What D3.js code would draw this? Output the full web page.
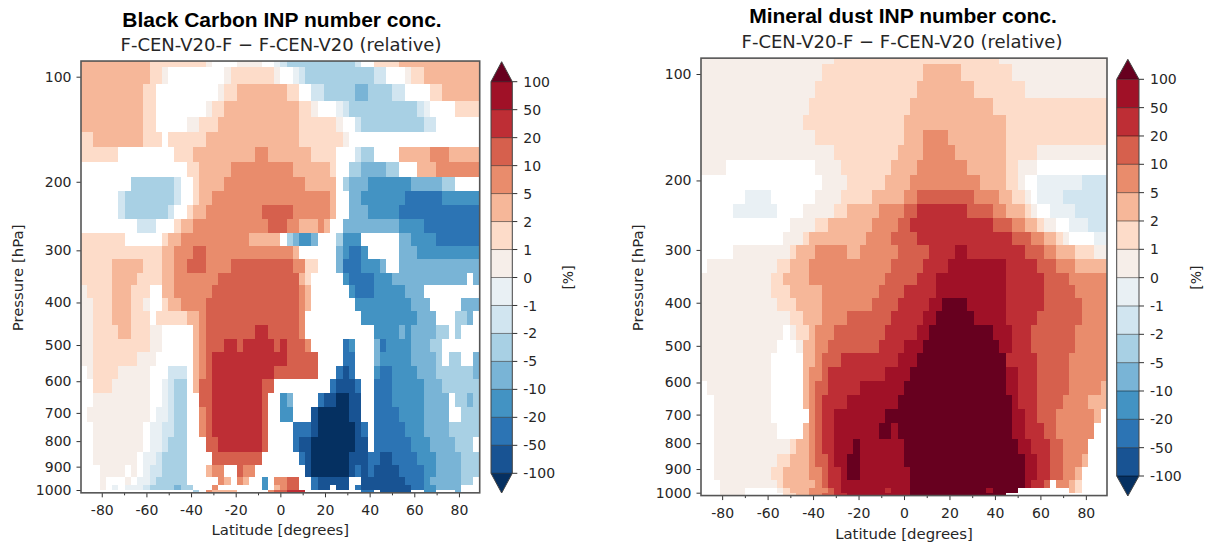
<!DOCTYPE html>
<html><head><meta charset="utf-8">
<script src="https://cdn.jsdelivr.net/npm/d3@7"></script>
<style>html,body{margin:0;padding:0;background:#fff}svg{display:block}</style>
</head><body><svg id="c" width="1209" height="542"></svg>
<script>
// ---- data -----
const pressureEdges = [89.4,93.5,105.3,118.2,131.7,145.5,160.4,176.6,193.9,211.3,230.3,250.4,271.1,292.6,315.6,340.2,364,390,418.8,450.5,484.8,519.3,556.8,594.5,637.2,681.6,729.4,783.5,840.2,893.1,945.1,978.5,1000,1012.7];
const pressureTicks = [100,200,300,400,500,600,700,800,900,1000];
const latMajorTicks = [-80,-60,-40,-20,0,20,40,60,80];
const latMinorTicks = [-70,-50,-30,-10,10,30,50,70];
const classBounds = [-100,-50,-20,-10,-5,-2,-1,0,1,2,5,10,20,50,100];
const classColors = ["#053061","#185393","#2c74b4","#4393c3","#79b4d6","#a8d0e4","#d1e5f0","#e9f0f4","#f6eee9","#fddcc9","#f6b799","#e98c6c","#d6604d","#be2e35","#a01127","#67001f"];
// one letter per relative-change class ("." = masked)
const classValues = {a:-150,b:-75,c:-35,d:-15,e:-7,f:-3,g:-1.5,h:-0.5,i:0.5,j:1.5,k:3,l:7,m:15,n:35,o:75,p:150};
// each row: class letter + last latitude column (exclusive) of that run, top to bottom
const blackCarbonRows = [
"k11 j20 i21 .25 i29 .31 h32 g33 f44 g45 .47 j51 k64",
"k11 j13 i14 .23 i24 j31 i32 .34 h35 g36 f47 g49 .52 i53 j55 k64",
"k10 j12 .22 i23 j25 k33 j35 .37 g39 f44 e46 f50 g52 .56 j58 k64",
"k10 j12 .20 i21 j23 k35 j37 i38 .41 h42 g43 f54 g55 h56 .60 j64",
"k10 j12 .17 i19 j22 k35 j41 i42 .44 g45 f55 g57 .64",
"j2 k10 j13 .14 j20 k35 j42 i43 .64",
"j6 .15 j18 k28 l30 k37 j41 .44 g45 f47 .51 k56 l59 k64",
".17 j19 k24 l34 k40 j41 .43 f45 e49 f51 .54 k57 l64",
".8 f15 g16 .18 j19 k23 l36 k41 .42 f43 e46 d53 e58 f60 .64",
".6 g7 f15 g16 .18 j19 k21 l40 k41 .43 e45 d52 c58 d64",
".6 g7 f14 g15 .17 j18 k20 l29 m34 l40 k41 .43 e46 d51 c64",
".9 g12 .15 j16 k18 l30 m33 l35 k38 l39 k40 .42 e51 d55 c64",
"j7 .13 j14 k16 l27 k32 .33 f34 e35 d37 e38 .41 f42 d45 .51 e53 d57 c64",
"j13 k15 l18 m20 l34 k35 .41 e42 d43 c45 d46 .51 e54 d64",
"j5 k10 j13 k15 l17 m20 l24 m34 l36 j38 .41 e42 c45 d48 e49 .51 e64",
"j5 k9 j13 k15 l22 m35 k36 j37 .42 d43 c47 d50 e62 .63 e64",
"i1 j5 k8 j11 .13 k15 l21 m35 l36 k37 .43 d44 c47 d52 e55 .64",
"i2 j5 k8 j10 i11 .13 j14 k16 l20 m35 l36 k37 .44 d53 e56 .61 e64",
"i2 j5 k8 j11 .12 j17 k19 l20 m35 l36 .45 d54 e57 .60 f62 e63 .64",
"i2 j6 k8 j11 i13 .18 k19 l20 m28 n30 m35 l36 .47 d51 e52 d53 e57 f59 .60 f61 .64",
"i2 j11 i13 .18 k19 l20 m23 n25 m26 n31 m32 n33 m36 l37 .42 c43 d44 .47 e48 c49 d53 e56 f58 .64",
"i2 j9 i12 .18 k19 l20 m21 n33 m38 .42 c44 .47 e48 d53 e57 f58 .59 f61 .63 e64",
".1 i2 j6 i11 .14 g17 .18 k19 l20 m21 n31 m38 .41 c42 b43 c44 .47 d48 c50 d54 e57 f63 e64",
".2 j5 i11 .13 h14 g15 f17 .18 k19 m21 n29 m31 .40 c41 b44 c45 .47 c50 d55 e58 f64",
".2 i11 .13 h14 g15 f17 .19 m21 n29 m30 .32 d33 e34 .38 c39 b41 a43 b45 .47 c50 d55 e59 .60 f62 e63 f64",
".1 i11 .12 h14 g15 f17 .19 l20 m21 n29 m30 .32 d34 .37 b38 a43 b45 .47 c51 d55 e59 .61 f64",
".2 i10 .11 h13 g15 f17 .19 l20 m21 n29 m30 .34 c37 b38 a44 b45 c46 .47 c52 d55 e59 f64",
".2 i10 .11 h13 g14 f17 .20 m22 n29 m30 .34 c35 b37 a44 b46 .47 c53 d56 e60 f63 .64",
".2 i9 .10 h12 g13 f17 .21 m29 .35 c36 b37 a43 b46 c48 b50 c54 d57 e61 f64",
".3 i7 .8 i9 .10 h11 g13 f17 .20 k21 l23 .25 m26 l28 .36 b37 a43 b44 c45 b46 c47 b51 c55 d57 e61 f64",
".3 i4 .7 i8 .9 h11 g12 f17 .22 l23 k24 .25 l26 k27 .29 d30 .31 l33 m35 .37 c38 b43 .45 b52 c55 d56 e61 f63 .64",
".3 i4 .5 h6 .7 h10 g11 f15 e16 f18 .21 l22 .29 d30 .31 k32 l33 m35 .37 c38 b40 .41 b43 .44 c45 b53 c55 d57 e61 .64",
".18 f19 .20 l21 k25 .30 l31 m33 n36 .45 c47 .48 b53 .55 d57 .60 e61 .64"
];
const mineralDustRows = [
"i21 j47 i64",
"i19 j35 k41 j49 i64",
"i18 j34 k43 j51 i64",
"i17 j33 k46 j64",
"i16 j32 k48 j64",
"i18 j32 k35 l39 k48 j64",
"i21 j31 k35 l40 k48 j53 i64",
"i4 .18 i22 j30 k34 l42 k48 j50 i53 .64",
".19 i23 j29 k33 l44 k48 j50 i51 .53 h60 g64",
".7 h11 .18 i22 j27 k32 l34 m43 l47 k49 j51 i52 .53 h57 g64",
".5 h12 .16 i21 j23 k28 l32 m34 n42 m46 l48 k51 j52 i53 .55 h59 g64",
".14 i18 j20 k27 l31 m33 n46 m49 l51 k53 j54 i56 .58 h61 g64",
".13 i16 j17 k26 l30 m34 n49 m52 l54 k56 j57 i58 .62 h64",
".5 i14 j15 k18 l23 k25 l31 m36 n40 o42 n51 m54 l56 k59 j62 i64",
".1 i12 j14 k17 l30 m35 n39 o48 n53 m56 l59 k64",
"i11 j13 k17 l29 m34 n37 o48 n54 m58 l64",
"i11 j14 k19 l28 m32 n37 o48 n54 m59 l64",
"i12 j15 k19 l27 m31 n36 o38 p42 o48 n54 m60 l64",
"i14 j16 k19 l23 m30 n35 o37 p43 o48 n53 m60 l64",
"i13 .14 i15 j17 k18 l21 m29 n34 o36 p46 o49 n52 m59 l64",
"i12 .15 i16 k18 l20 m28 n32 o35 p47 o49 n52 m59 l64",
"i11 .16 k18 l19 m22 n31 o34 p48 n53 m58 l64",
"i11 .16 k17 l19 m20 n29 o33 p48 o50 n53 m58 l64",
".1 i11 .16 k17 l18 m20 n25 o32 p48 o50 n53 m58 l63 k64",
".2 i11 .16 k17 l18 m19 n23 o31 p49 o50 n53 m57 l61 k64",
".2 i11 .17 l18 m19 n21 o29 p49 o51 n53 m56 l62 k63 .64",
".2 i12 .16 k17 l18 m19 n21 o28 p30 o31 p49 o51 n54 m56 l62 .64",
".2 i14 j15 k17 l18 m19 n21 o24 p25 o32 p50 o52 n55 m57 l61 .64",
".2 i12 j14 k17 l18 m20 n21 o23 p25 o32 p51 o53 n55 m57 l60 k61 .64",
".2 i11 j13 k17 l19 m20 n22 o23 p25 o33 p51 o53 n55 m57 l59 k60 .64",
".3 i12 j13 k18 l19 m20 n22 o33 p51 o52 n54 m55 .56 l58 k59 j60 .64",
".3 i7 .12 i13 j14 k17 l20 m21 n22 o29 n30 o33 p45 o46 p50 .58 k59 j60 .64",
".3 i7 .13 j15 k17 l19 m21 n23 o33 p48 .64"
];
const panels = [
  {title:"Black Carbon INP number conc.", subtitle:"F-CEN-V20-F \u2212 F-CEN-V20 (relative)", rows:blackCarbonRows,
   x0:81,x1:479.7,y100:76.7,y1000:490,titleX:282,titleY:27,subY:51,tickPad:8,
   bar:{x:491,w:21.3,top:81.7,bottom:473.3,apexTop:61.7,apexBottom:493,labelX:568},yLabelX:23,xLabelY:535},
  {title:"Mineral dust INP number conc.", subtitle:"F-CEN-V20-F \u2212 F-CEN-V20 (relative)", rows:mineralDustRows,
   x0:701,x1:1107,y100:74,y1000:492.7,titleX:903,titleY:23,subY:48,tickPad:8,
   bar:{x:1116.7,w:22.3,top:79.3,bottom:476,apexTop:59.3,apexBottom:496,labelX:1196},yLabelX:643,xLabelY:539}
];
// ---- drawing ----
const svg = d3.select("#c");
const color = d3.scaleThreshold().domain(classBounds).range(classColors);
const TXT="#262626", SANS="'DejaVu Sans',sans-serif";
function decode(row){
  const out=[]; let c=0;
  row.split(" ").forEach(t=>{const e=+t.slice(1); const v=classValues[t[0]]; for(;c<e;c++) out.push(v===undefined?NaN:v);});
  return out;
}
panels.forEach(p=>{
  const g=svg.append("g");
  const x=d3.scaleLinear().domain([-89.3,89.3]).range([p.x0,p.x1]);
  const y=d3.scalePow().exponent(0.2).domain([100,1000]).range([p.y100,p.y1000]);
  const latEdge=d3.scaleLinear().domain([0,64]).range([-89.3,89.3]);
  const cells=g.append("g").attr("shape-rendering","crispEdges");
  p.rows.forEach((row,r)=>{
    cells.append("g").selectAll("rect").data(decode(row).map((v,c)=>({v,c})).filter(d=>!isNaN(d.v))).join("rect")
     .attr("x",d=>x(latEdge(d.c))).attr("width",d=>x(latEdge(d.c+1))-x(latEdge(d.c)))
     .attr("y",y(pressureEdges[r])).attr("height",y(pressureEdges[r+1])-y(pressureEdges[r]))
     .attr("fill",d=>color(d.v));
  });
  const top=y(pressureEdges[0]), bot=y(pressureEdges[pressureEdges.length-1]);
  g.append("g").attr("transform",`translate(0,${bot})`)
    .call(d3.axisBottom(x).tickValues(latMajorTicks).tickSize(4.5).tickPadding(p.tickPad).tickFormat(d=>d<0?"-"+Math.abs(d):d));
  g.append("g").attr("transform",`translate(0,${bot})`)
    .call(d3.axisBottom(x).tickValues(latMinorTicks).tickSize(2.5).tickFormat(""));
  g.append("g").attr("transform",`translate(${p.x0},0)`)
    .call(d3.axisLeft(y).tickValues(pressureTicks).tickSize(4.5).tickPadding(5).tickFormat(d3.format("d")));
  g.selectAll(".domain").remove();
  g.selectAll(".tick line").attr("stroke","#333").attr("stroke-width",1);
  g.selectAll(".tick text").attr("font-family",SANS).attr("font-size",14).attr("fill",TXT);
  g.append("rect").attr("x",p.x0).attr("y",top).attr("width",p.x1-p.x0).attr("height",bot-top)
    .attr("fill","none").attr("stroke","#555").attr("stroke-width",1.6);
  // titles
  g.append("text").attr("x",p.titleX).attr("y",p.titleY).attr("text-anchor","middle")
    .attr("font-family","'Liberation Sans',Arial,sans-serif").attr("font-weight","bold").attr("font-size",21).attr("fill","#000").text(p.title);
  g.append("text").attr("x",p.titleX-1).attr("y",p.subY).attr("text-anchor","middle")
    .attr("font-family",SANS).attr("font-size",18).attr("fill",TXT).text(p.subtitle);
  g.append("text").attr("transform",`translate(${p.yLabelX},${(top+bot)/2+1}) rotate(-90)`).attr("text-anchor","middle")
    .attr("font-family",SANS).attr("font-size",14.9).attr("fill",TXT).text("Pressure [hPa]");
  g.append("text").attr("x",(p.x0+p.x1)/2).attr("y",p.xLabelY).attr("text-anchor","middle")
    .attr("font-family",SANS).attr("font-size",14.9).attr("fill",TXT).text("Latitude [degrees]");
  // colour bar
  const b=p.bar, barY=d3.scaleLinear().domain([0,classBounds.length-1]).range([b.bottom,b.top]);
  const bins=d3.range(classBounds.length-1);
  g.append("g").selectAll("rect").data(bins).join("rect")
    .attr("x",b.x).attr("width",b.w).attr("y",i=>barY(i+1)).attr("height",i=>barY(i)-barY(i+1))
    .attr("fill",i=>classColors[i+1]);
  g.append("path").attr("d",`M${b.x},${b.top}L${b.x+b.w/2},${b.apexTop}L${b.x+b.w},${b.top}Z`).attr("fill",classColors[15]);
  g.append("path").attr("d",`M${b.x},${b.bottom}L${b.x+b.w/2},${b.apexBottom}L${b.x+b.w},${b.bottom}Z`).attr("fill",classColors[0]);
  g.append("g").selectAll("line").data(classBounds).join("line")
    .attr("x1",b.x).attr("x2",b.x+b.w).attr("y1",(d,i)=>barY(i)).attr("y2",(d,i)=>barY(i)).attr("stroke","#000").attr("stroke-opacity",0.6).attr("stroke-width",0.8);
  g.append("path").attr("fill","none").attr("stroke","#444").attr("stroke-width",1)
    .attr("d",`M${b.x},${b.top}L${b.x+b.w/2},${b.apexTop}L${b.x+b.w},${b.top}L${b.x+b.w},${b.bottom}L${b.x+b.w/2},${b.apexBottom}L${b.x},${b.bottom}Z`);
  g.append("g").selectAll("line").data(classBounds).join("line")
    .attr("x1",b.x+b.w).attr("x2",b.x+b.w+5).attr("y1",(d,i)=>barY(i)).attr("y2",(d,i)=>barY(i)).attr("stroke","#333");
  g.append("g").selectAll("text").data(classBounds).join("text")
    .attr("x",b.x+b.w+11).attr("y",(d,i)=>barY(i)).attr("dy","0.36em")
    .attr("font-family",SANS).attr("font-size",14).attr("fill",TXT).text(d=>d);
  g.append("text").attr("transform",`translate(${b.labelX+5},${(b.top+b.bottom)/2}) rotate(-90)`).attr("text-anchor","middle")
    .attr("font-family",SANS).attr("font-size",14).attr("fill",TXT).text("[%]");
});
</script></body></html>
